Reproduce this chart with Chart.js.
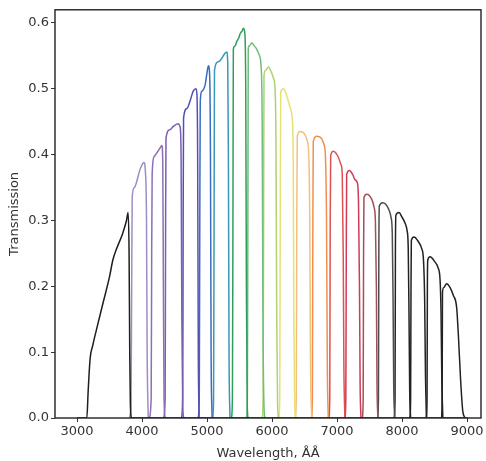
<!DOCTYPE html>
<html><head><meta charset="utf-8">
<script src="https://cdn.jsdelivr.net/npm/chart.js@4"></script>
<style>html,body{margin:0;padding:0;background:#fff;}#wrap{width:486px;height:461px;}</style>
</head><body><div id="wrap"><canvas id="c" width="486" height="461"></canvas></div>
<script>
// ---- data: filter transmission curves [wavelength (Å), transmission] ----
const f00 = [[3000,0],[3150,0],[3170,0.04],[3200,0.09],[3240,0.11],[3300,0.135],[3400,0.175],[3500,0.215],[3550,0.24],[3600,0.255],[3700,0.28],[3760,0.30],[3785,0.312],[3800,0.25],[3810,0.1],[3820,0.02],[3840,0],[9010,0]];
const f01 = [[3800,0],[3830,0.02],[3840,0.20],[3848,0.335],[3880,0.35],[3920,0.36],[3960,0.375],[4000,0.385],[4030,0.388],[4050,0.375],[4068,0.30],[4078,0.10],[4095,0]];
const f02 = [[4110,0],[4140,0.03],[4148,0.25],[4155,0.37],[4185,0.397],[4230,0.403],[4275,0.41],[4305,0.414],[4318,0.39],[4328,0.2],[4338,0.03],[4355,0]];
const f03 = [[4330,0],[4355,0.03],[4362,0.3],[4368,0.425],[4430,0.438],[4480,0.443],[4555,0.447],[4585,0.442],[4600,0.40],[4612,0.15],[4625,0.02],[4640,0]];
const f04 = [[4605,0],[4625,0.03],[4632,0.3],[4638,0.455],[4690,0.47],[4740,0.482],[4785,0.496],[4830,0.50],[4845,0.49],[4855,0.40],[4865,0.1],[4878,0]];
const f05 = [[4862,0],[4880,0.03],[4888,0.3],[4895,0.48],[4918,0.496],[4970,0.506],[4995,0.522],[5020,0.535],[5040,0.52],[5052,0.40],[5062,0.1],[5078,0]];
const f06 = [[5085,0],[5100,0.03],[5108,0.3],[5114,0.528],[5175,0.541],[5225,0.546],[5275,0.554],[5300,0.556],[5318,0.54],[5328,0.4],[5338,0.1],[5352,0]];
const f07 = [[5375,0],[5390,0.03],[5398,0.3],[5404,0.56],[5430,0.565],[5457,0.572],[5490,0.578],[5510,0.584],[5540,0.588],[5558,0.592],[5580,0.585],[5595,0.50],[5605,0.2],[5618,0.02],[5630,0]];
const f08 = [[5605,0],[5620,0.03],[5628,0.3],[5634,0.562],[5660,0.566],[5687,0.57],[5720,0.566],[5765,0.56],[5800,0.552],[5830,0.535],[5848,0.45],[5860,0.15],[5875,0.02],[5890,0]];
const f09 = [[5850,0],[5862,0.03],[5870,0.3],[5876,0.52],[5900,0.528],[5943,0.533],[5990,0.525],[6025,0.515],[6046,0.50],[6060,0.42],[6072,0.15],[6085,0.02],[6100,0]];
const f10 = [[6105,0],[6118,0.03],[6126,0.3],[6133,0.495],[6174,0.50],[6225,0.49],[6277,0.472],[6310,0.455],[6325,0.40],[6335,0.15],[6348,0.02],[6362,0]];
const f11 = [[6360,0],[6372,0.03],[6380,0.3],[6388,0.428],[6431,0.435],[6508,0.43],[6545,0.42],[6565,0.40],[6580,0.30],[6592,0.08],[6610,0]];
const f12 = [[6608,0],[6620,0.03],[6628,0.3],[6634,0.42],[6687,0.428],[6765,0.424],[6800,0.415],[6820,0.40],[6838,0.30],[6850,0.08],[6865,0]];
const f13 = [[6875,0],[6888,0.03],[6895,0.3],[6902,0.398],[6943,0.405],[7020,0.396],[7060,0.385],[7080,0.37],[7095,0.25],[7105,0.08],[7120,0]];
const f14 = [[7122,0],[7135,0.03],[7142,0.25],[7148,0.37],[7189,0.376],[7240,0.37],[7275,0.362],[7310,0.358],[7330,0.33],[7345,0.2],[7355,0.05],[7368,0]];
const f15 = [[7390,0],[7402,0.03],[7408,0.25],[7414,0.335],[7457,0.34],[7535,0.332],[7570,0.32],[7590,0.30],[7605,0.2],[7615,0.05],[7628,0]];
const f16 = [[7625,0],[7637,0.03],[7643,0.25],[7650,0.322],[7703,0.327],[7790,0.318],[7830,0.305],[7850,0.28],[7862,0.18],[7872,0.05],[7888,0]];
const f17 = [[7880,0],[7892,0.03],[7898,0.25],[7905,0.308],[7954,0.312],[8000,0.305],[8046,0.296],[8077,0.285],[8095,0.26],[8108,0.15],[8118,0.04],[8132,0]];
const f18 = [[8122,0],[8132,0.03],[8138,0.2],[8143,0.27],[8185,0.275],[8250,0.268],[8300,0.258],[8330,0.24],[8348,0.18],[8360,0.07],[8375,0]];
const f19 = [[8375,0],[8385,0.03],[8390,0.2],[8396,0.24],[8431,0.245],[8500,0.238],[8555,0.228],[8585,0.21],[8600,0.16],[8612,0.06],[8628,0]];
const f20 = [[8610,0],[8618,0.05],[8622,0.19],[8640,0.198],[8687,0.204],[8740,0.198],[8790,0.186],[8840,0.168],[8870,0.12],[8900,0.06],[8935,0.01],[8970,0]];

const filters = [f00,f01,f02,f03,f04,f05,f06,f07,f08,f09,f10,f11,f12,f13,f14,f15,f16,f17,f18,f19,f20];
const xTicks = [3000,4000,5000,6000,7000,8000,9000];
const yTicks = [0.0,0.1,0.2,0.3,0.4,0.5,0.6];

// ---- styles ----
const colors = ['#1e1e1e','#a08cc4','#8e6eb4','#7c5cb6','#5450b2','#3a6cc0','#3a98b6','#2e9e5c','#70bc7c','#acd272','#e8e070','#f2c07e','#ee904e','#e05050','#d03a5a','#a05058','#4c4c4c','#222','#222','#222','#222'];

const frame = {
  id: 'frame',
  afterDatasetsDraw(chart) {
    const a = chart.chartArea, c = chart.ctx;
    c.save(); c.strokeStyle = '#222'; c.lineWidth = 1.4;
    c.strokeRect(a.left, a.top, a.right - a.left, a.bottom - a.top);
    c.restore();
  }
};

Chart.defaults.font.family = "'DejaVu Sans', sans-serif";
Chart.defaults.font.size = 13;
Chart.defaults.color = '#333';

new Chart(document.getElementById('c'), {
  type: 'scatter',
  data: {
    datasets: filters.map((f, i) => ({
      data: f.map(p => ({x: p[0], y: p[1]})),
      showLine: true, borderColor: colors[i], borderWidth: 1.5,
      pointRadius: 0, cubicInterpolationMode: 'monotone', fill: false
    }))
  },
  options: {
    responsive: false, animation: false, devicePixelRatio: 1,
    layout: {padding: {top: 8, right: 5, left: 0, bottom: 0}},
    plugins: {legend: {display: false}, tooltip: {enabled: false}},
    scales: {
      x: {
        type: 'linear', min: 2660, max: 9215,
        afterBuildTicks: s => { s.ticks = xTicks.map(v => ({value: v})); },
        afterFit: s => { s.height = 43; },
        ticks: {callback: v => String(v), padding: 2, maxRotation: 0, autoSkip: false},
        grid: {drawOnChartArea: false, drawTicks: true, tickLength: 4, color: '#333'},
        border: {display: false},
        title: {display: true, text: 'Wavelength, ÅÅ', padding: {top: 4, bottom: 0}, font: {size: 13}}
      },
      y: {
        type: 'linear', min: 0, max: 0.62,
        afterBuildTicks: s => { s.ticks = yTicks.map(v => ({value: v})); },
        afterFit: s => { s.width = 55; },
        ticks: {callback: v => v.toFixed(1), padding: 2, autoSkip: false},
        grid: {drawOnChartArea: false, drawTicks: true, tickLength: 4, color: '#333'},
        border: {display: false},
        title: {display: true, text: 'Transmission', padding: {top: 7, bottom: 0}, font: {size: 13}}
      }
    }
  },
  plugins: [frame]
});
</script>
</body></html>
